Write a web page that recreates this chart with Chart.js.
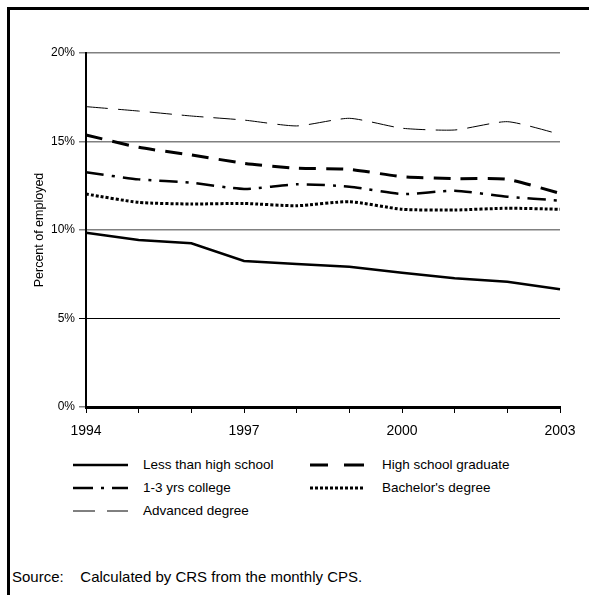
<!DOCTYPE html>
<html>
<head>
<meta charset="utf-8">
<script src="https://cdn.jsdelivr.net/npm/chart.js@4.4.1/dist/chart.umd.min.js"></script>
<style>
  body { margin: 0; background: #fff; font-family: "Liberation Sans", Arial, sans-serif; }
  #page { position: relative; width: 589px; height: 595px; overflow: hidden; }
  #frame { position: absolute; left: 7px; top: 7px; width: 600px; height: 600px; border-left: 3px solid #000; border-top: 3px solid #000; }
  #chartBox { position: absolute; left: 0; top: 0; width: 589px; height: 440px; }
  .legItem { position: absolute; font-size: 13.5px; color: #000; height: 14px; line-height: 14px; }
  .legItem svg { position: absolute; top: 0; }
  #source { position: absolute; left: 12px; top: 568px; font-size: 15px; color: #000; white-space: pre; }
</style>
</head>
<body>
<div id="page">
  <div id="frame"></div>
  <div id="chartBox"><canvas id="idCanv_employ"></canvas></div>
  <div id="legend"></div>
  <div id="source">Source:    Calculated by CRS from the monthly CPS.</div>
</div>
<script>
const years = ["1994", "1995", "1996", "1997", "1998", "1999", "2000", "2001", "2002", "2003"];
const shownYears = ["1994", "1997", "2000", "2003"];
const yTicks = [0, 5, 10, 15, 20];

const lessThanHS = [9.85, 9.43, 9.25, 8.25, 8.08, 7.93, 7.59, 7.27, 7.08, 6.65];
const hsGraduate = [15.37, 14.67, 14.24, 13.77, 13.49, 13.43, 13.01, 12.9, 12.86, 12.07];
const someCollege = [13.26, 12.86, 12.67, 12.32, 12.58, 12.45, 12.03, 12.22, 11.88, 11.66];
const bachelors = [12.03, 11.56, 11.47, 11.5, 11.37, 11.6, 11.17, 11.13, 11.23, 11.17];
const advanced = [16.97, 16.72, 16.44, 16.21, 15.88, 16.31, 15.75, 15.65, 16.12, 15.41];

// legend order and column placement as in the original figure
const series = [
  { label: "Less than high school", data: lessThanHS, width: 2.5, dash: [], legDash: [], tension: 0, leg: [73, 458] },
  { label: "High school graduate", data: hsGraduate, width: 3, dash: [17, 10], legDash: [18, 16, 20], tension: 0.2, leg: [310, 458] },
  { label: "1-3 yrs college", data: someCollege, width: 2.5, dash: [18, 8, 3, 8], legDash: [20, 8, 3, 8, 20], tension: 0.2, leg: [73, 481] },
  { label: "Bachelor's degree", data: bachelors, width: 3, dash: [3, 2], legDash: [3, 2], tension: 0.2, leg: [310, 481] },
  { label: "Advanced degree", data: advanced, width: 1, dash: [22, 10], legDash: [22, 12, 22], tension: 0.2, leg: [73, 504] },
];

const employChart = {
  config: {
    type: "line",
    data: {
      labels: years,
      datasets: series.map((s) => ({
        label: s.label,
        data: s.data,
        borderColor: "#000",
        borderWidth: s.width,
        borderDash: s.dash,
        borderCapStyle: "butt",
        tension: s.tension,
        pointRadius: 0,
        fill: false,
      })),
    },
    options: {
      responsive: true,
      maintainAspectRatio: false,
      animation: false,
      layout: { padding: { top: 53, right: 29, left: 0, bottom: 0 } },
      plugins: {
        legend: { display: false },
        tooltip: { enabled: false },
      },
      scales: {
        x: {
          type: "category",
          offset: false,
          afterFit: (s) => { s.height = 33; },
          border: { color: "#000", width: 3 },
          grid: { drawOnChartArea: false, drawTicks: true, tickLength: 6, color: "#000", lineWidth: 1 },
          ticks: {
            autoSkip: false,
            maxRotation: 0,
            color: "#000",
            font: { family: "Liberation Sans", size: 14 },
            padding: 10,
            callback: function (val) {
              const lab = this.getLabelForValue(val);
              return shownYears.includes(lab) ? lab : "";
            },
          },
        },
        y: {
          min: 0,
          max: 20,
          afterFit: (s) => { s.width = 86; },
          afterBuildTicks: (s) => { s.ticks = yTicks.map((v) => ({ value: v })); },
          border: { color: "#000", width: 2 },
          grid: {
            drawTicks: true,
            tickLength: 7,
            color: (ctx) => (ctx.tick && ctx.tick.value === 5 ? "#000" : "#808080"),
            lineWidth: (ctx) => (ctx.tick && ctx.tick.value === 5 ? 1 : 1.5),
          },
          ticks: {
            color: "#000",
            padding: 4,
            font: { family: "Liberation Sans", size: 12 },
            callback: (v) => v + "%",
          },
          title: {
            display: true,
            text: "Percent of employed",
            color: "#000",
            font: { family: "Liberation Sans", size: 12.5 },
            padding: { top: 32, bottom: 0 },
          },
        },
      },
    },
  },
  canvas: null,
};

employChart.canvas = new Chart(document.getElementById("idCanv_employ"), employChart.config);

// simple html legend, line samples drawn from the dataset styles
function createLegend() {
  const box = document.getElementById("legend");
  series.forEach((s) => {
    const item = document.createElement("div");
    item.className = "legItem";
    item.style.left = s.leg[0] + "px";
    item.style.top = s.leg[1] + "px";
    const w = 55;
    item.innerHTML =
      `<svg width="${w}" height="14" style="left:0"><line x1="0" y1="7" x2="${w}" y2="7" stroke="#000" stroke-width="${s.width}" stroke-dasharray="${s.legDash.length ? s.legDash.join(",") : "none"}"/></svg>` +
      `<span style="position:absolute;left:${s.leg[0] === 73 ? 70 : 72}px;white-space:nowrap">${s.label}</span>`;
    box.appendChild(item);
  });
}
createLegend();
</script>
</body>
</html>
